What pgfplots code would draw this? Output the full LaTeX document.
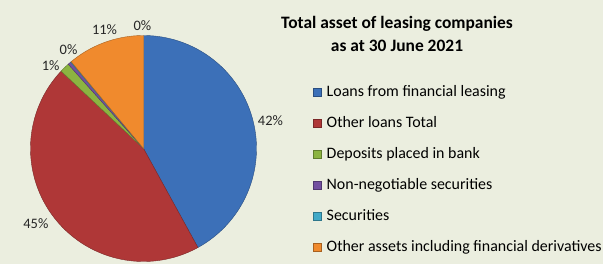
\documentclass[border=0pt]{standalone}
\usepackage{fontspec}
\setmainfont{Carlito}
\usepackage{pgfplots}
\usepackage{pgfplotstable}
\pgfplotsset{compat=1.18}
\usepgfplotslibrary{polar}
\pgfkeys{/pgf/number format/assume math mode=true}

\definecolor{bgc}{RGB}{235,238,223}
\definecolor{cblue}{RGB}{60,112,184}
\definecolor{cred}{RGB}{175,55,55}
\definecolor{cgreen}{RGB}{140,180,65}
\definecolor{cpurple}{RGB}{115,80,160}
\definecolor{cteal}{RGB}{65,170,200}
\definecolor{corange}{RGB}{240,138,45}

% share of total assets, percent
\pgfplotstableread{
share
42.0
45.0
1.4
0.45
0.1
11.05
}\assetdata

\begin{document}
\begin{tikzpicture}
\path[use as bounding box, fill=bgc] (0,0) rectangle (603bp,264bp);

\pgfplotstablegetelem{0}{share}\of\assetdata \let\sA\pgfplotsretval
\pgfplotstablegetelem{1}{share}\of\assetdata \let\sB\pgfplotsretval
\pgfplotstablegetelem{2}{share}\of\assetdata \let\sC\pgfplotsretval
\pgfplotstablegetelem{3}{share}\of\assetdata \let\sD\pgfplotsretval
\pgfplotstablegetelem{4}{share}\of\assetdata \let\sE\pgfplotsretval
\pgfplotstablegetelem{5}{share}\of\assetdata \let\sF\pgfplotsretval
\pgfmathsetmacro\bA{90-3.6*\sA}
\pgfmathsetmacro\bB{\bA-3.6*\sB}
\pgfmathsetmacro\bC{\bB-3.6*\sC}
\pgfmathsetmacro\bD{\bC-3.6*\sD}
\pgfmathsetmacro\bE{\bD-3.6*\sE}
\pgfmathsetmacro\bF{\bE-3.6*\sF}

\begin{polaraxis}[
  at={(143.5bp,115.5bp)}, anchor=origin,
  width=226bp, height=226bp, scale only axis,
  ymin=0, ymax=1,
  hide axis, clip=false,
  legend cell align=left,
  legend image code/.code={\draw[#1] (0bp,-4.25bp) rectangle (8.5bp,4.25bp);},
  legend style={draw=none, fill=none,
    at={(axis description cs:1.235,0.79)}, anchor=north west,
    font=\fontsize{16}{16}\selectfont,
    row sep=17bp,
    nodes={inner sep=0pt, text height=11bp, text depth=3bp},
    /tikz/every odd column/.append style={column sep=5bp}},
]
\addplot[fill=cblue, draw=cblue!70!black, line width=0.4bp, domain=\bA:90, samples=120] {1} -- (axis cs:0,0) -- cycle;
\addlegendentry{Loans from financial leasing}
\addplot[fill=cred, draw=cred!70!black, line width=0.4bp, domain=\bB:\bA, samples=120] {1} -- (axis cs:0,0) -- cycle;
\addlegendentry{Other loans Total}
\addplot[fill=cgreen, draw=cgreen!70!black, line width=0.4bp, domain=\bC:\bB, samples=10] {1} -- (axis cs:0,0) -- cycle;
\addlegendentry{Deposits placed in bank}
\addplot[fill=cpurple, draw=cpurple!70!black, line width=0.4bp, domain=\bD:\bC, samples=10] {1} -- (axis cs:0,0) -- cycle;
\addlegendentry{Non-negotiable securities}
\addplot[fill=cteal, draw=cteal!70!black, line width=0.4bp, domain=\bE:\bD, samples=5] {1} -- (axis cs:0,0) -- cycle;
\addlegendentry{Securities}
\addplot[fill=corange, draw=corange!70!black, line width=0.4bp, domain=\bF:\bE, samples=60] {1} -- (axis cs:0,0) -- cycle;
\addlegendentry{Other assets including financial derivatives}

\begin{scope}[every node/.style={font=\fontsize{14.5}{14.5}\selectfont, text=black!85}]
\node at (axis cs:12.4,1.15) {\pgfmathprintnumber[fixed,precision=0]{\sA}\%};
\node at (axis cs:214.8,1.16) {\pgfmathprintnumber[fixed,precision=0]{\sB}\%};
\node at (axis cs:138.3,1.10) {\pgfmathprintnumber[fixed,precision=0]{\sC}\%};
\node at (axis cs:127.1,1.10) {\pgfmathprintnumber[fixed,precision=0]{\sD}\%};
\node at (axis cs:90.5,1.09) {\pgfmathprintnumber[fixed,precision=0]{\sE}\%};
\node at (axis cs:108.1,1.11) {\pgfmathprintnumber[fixed,precision=0]{\sF}\%};
\end{scope}
\end{polaraxis}

\node[font=\bfseries\fontsize{17.5}{23}\selectfont, align=center] at (397bp,230.5bp)
  {Total asset of leasing companies\\as at 30 June 2021};
\end{tikzpicture}
\end{document}
